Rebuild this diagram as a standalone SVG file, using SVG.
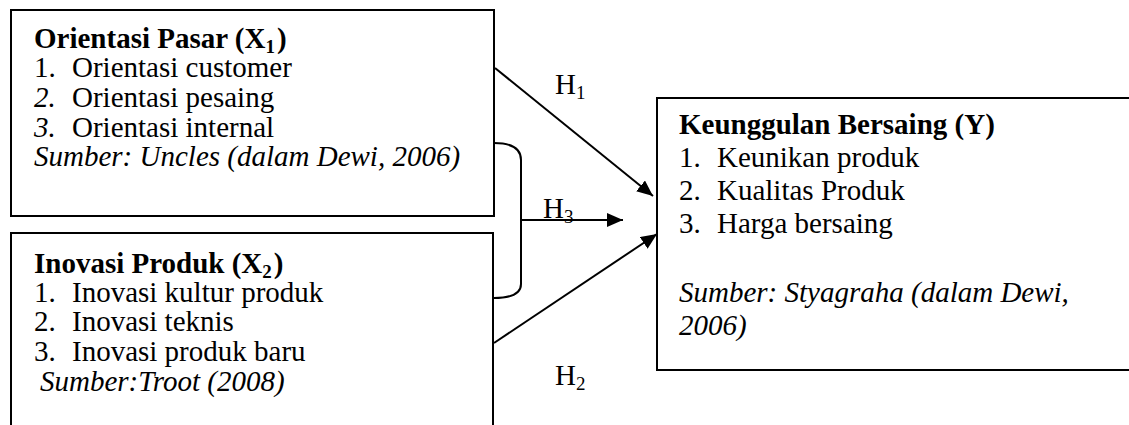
<svg xmlns="http://www.w3.org/2000/svg" width="1129" height="425" viewBox="0 0 1129 425">
  <style>
    text { font-family: "Liberation Serif", "Times New Roman", serif; font-size: 29px; fill: #000; }
    .b { font-weight: bold; }
    .i { font-style: italic; }
    .sub { font-size: 19px; }
    .box { fill: #fff; stroke: #000; stroke-width: 2; }
    .edge { fill: none; stroke: #000; stroke-width: 2; }
  </style>
  <defs>
    <marker id="arrow" markerUnits="userSpaceOnUse" markerWidth="17" markerHeight="15" refX="16" refY="7" orient="auto">
      <path d="M0,0 L16,7 L0,14 z" fill="#000"/>
    </marker>
  </defs>
  <rect width="1129" height="425" fill="#fff"/>

  <!-- X1: Orientasi Pasar -->
  <g id="node-x1">
    <rect class="box" x="11" y="10" width="483" height="206"/>
    <text class="b" x="34" y="48">Orientasi Pasar (X<tspan class="sub" dy="5">1</tspan><tspan dx="2" dy="-5">)</tspan></text>
    <text x="34" y="77">1.</text><text x="72" y="77">Orientasi customer</text>
    <text class="i" x="34" y="107">2.</text><text x="72" y="107">Orientasi pesaing</text>
    <text class="i" x="34" y="137">3.</text><text x="72" y="137">Orientasi internal</text>
    <text class="i" x="34" y="166">Sumber: Uncles (dalam Dewi, 2006)</text>
  </g>

  <!-- X2: Inovasi Produk (open at the bottom edge) -->
  <g id="node-x2">
    <rect class="box" x="11" y="233" width="482" height="200"/>
    <text class="b" x="34" y="273">Inovasi Produk (X<tspan class="sub" dy="5">2</tspan><tspan dx="2" dy="-5">)</tspan></text>
    <text x="34" y="302">1.</text><text x="72" y="302">Inovasi kultur produk</text>
    <text x="34" y="331">2.</text><text x="72" y="331">Inovasi teknis</text>
    <text x="34" y="361">3.</text><text x="72" y="361">Inovasi produk baru</text>
    <text class="i" x="40" y="391">Sumber:Troot (2008)</text>
  </g>

  <!-- Y: Keunggulan Bersaing -->
  <g id="node-y">
    <rect class="box" x="657" y="98" width="480" height="272"/>
    <text class="b" x="679" y="134">Keunggulan Bersaing (Y)</text>
    <text x="679" y="167">1.</text><text x="717" y="167">Keunikan produk</text>
    <text x="679" y="200">2.</text><text x="717" y="200">Kualitas Produk</text>
    <text x="679" y="233">3.</text><text x="717" y="233">Harga bersaing</text>
    <text class="i" x="679" y="302">Sumber: Styagraha (dalam Dewi,</text>
    <text class="i" x="679" y="335">2006)</text>
  </g>

  <!-- hypothesis paths -->
  <g id="connectors">
    <line class="edge" x1="495" y1="68" x2="653" y2="196" marker-end="url(#arrow)"/>
    <path class="edge" d="M494,143 C512,143 521,148 521,160 V284 C521,293 512,298 494,298"/>
    <line class="edge" x1="521" y1="220" x2="623" y2="220" marker-end="url(#arrow)"/>
    <line class="edge" x1="494" y1="343" x2="657" y2="234" marker-end="url(#arrow)"/>
    <text x="555" y="94">H<tspan class="sub" dy="5">1</tspan></text>
    <text x="543" y="218">H<tspan class="sub" dy="5">3</tspan></text>
    <text x="555" y="385">H<tspan class="sub" dy="5">2</tspan></text>
  </g>
</svg>
